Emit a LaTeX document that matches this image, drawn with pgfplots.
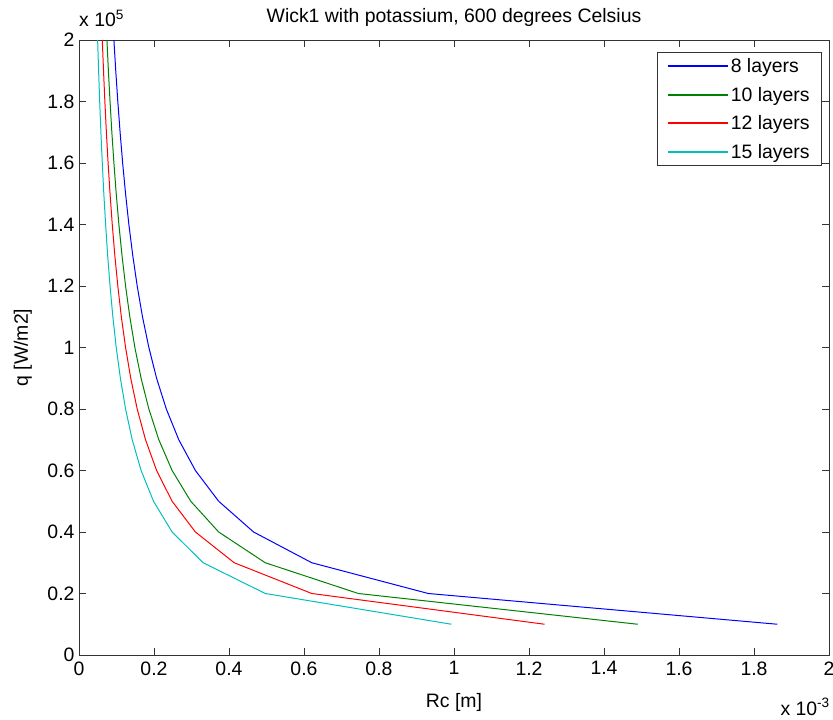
\documentclass[border=0pt]{standalone}
\usepackage{pgfplots}
\pgfplotsset{compat=1.18}
\usepackage{fontspec}
\setmainfont{Liberation Sans}
\definecolor{mgreen}{rgb}{0,0.5,0}
\definecolor{mcyan}{rgb}{0,0.75,0.75}
\newcommand{\ff}{\fontsize{19.5}{22}\selectfont}
\begin{document}
\begin{tikzpicture}
\begin{axis}[
  at={(0,0)}, anchor=south west,
  scale only axis, width=750bp, height=615bp,
  xmin=0, xmax=2, ymin=0, ymax=2,
  xtick={0,0.2,...,2.01}, ytick={0,0.2,...,2.01},
  tick align=inside, xtick pos=both, ytick pos=both,
  major tick length=7bp,
  /pgf/number format/assume math mode=true,
  /pgf/number format/fixed,
  tick label style={font=\ff},
  xticklabel style={yshift=-3bp},
  yticklabel style={xshift=-1bp},
  axis line style={line width=0.8pt, black!80},
  tick style={line width=0.8pt, black!80},
  title={Wick1 with potassium, 600 degrees Celsius},
  title style={font=\ff, at={(axis description cs:0.5,1)}, anchor=base, yshift=12bp},
  xlabel={Rc [m]}, ylabel={q [W/m2]},
  label style={font=\ff},
  xlabel style={at={(axis description cs:0.5,-0.085)}, anchor=base},
  ylabel style={at={(axis description cs:-0.058,0.5)}, anchor=south},
  legend style={at={(0.9907,0.9805)}, anchor=north east, draw=black!80, line width=0.8pt,
    font=\ff, cells={anchor=west}, row sep=9bp, inner xsep=10bp, inner ysep=4bp},
  legend image code/.code={\draw[#1, line width=1.6pt] (0bp,0bp) -- (60bp,0bp);},
  every axis plot/.append style={line width=1pt},
]
\addplot[draw=blue] coordinates {(1.8625,0.1)(0.9313,0.2)(0.6208,0.3)(0.4656,0.4)(0.3725,0.5)(0.3104,0.6)(0.2661,0.7)(0.2328,0.8)(0.2069,0.9)(0.1863,1.0)(0.1693,1.1)(0.1552,1.2)(0.1433,1.3)(0.1330,1.4)(0.1242,1.5)(0.1164,1.6)(0.1096,1.7)(0.1035,1.8)(0.0980,1.9)(0.0931,2.0)};
\addlegendentry{8 layers}
\addplot[draw=mgreen] coordinates {(1.49,0.1)(0.745,0.2)(0.4967,0.3)(0.3725,0.4)(0.298,0.5)(0.2483,0.6)(0.2129,0.7)(0.1863,0.8)(0.1656,0.9)(0.149,1.0)(0.1355,1.1)(0.1242,1.2)(0.1146,1.3)(0.1064,1.4)(0.0993,1.5)(0.0931,1.6)(0.0876,1.7)(0.0828,1.8)(0.0784,1.9)(0.0745,2.0)};
\addlegendentry{10 layers}
\addplot[draw=red] coordinates {(1.2417,0.1)(0.6208,0.2)(0.4139,0.3)(0.3104,0.4)(0.2483,0.5)(0.2069,0.6)(0.1774,0.7)(0.1552,0.8)(0.1380,0.9)(0.1242,1.0)(0.1129,1.1)(0.1035,1.2)(0.0955,1.3)(0.0887,1.4)(0.0828,1.5)(0.0776,1.6)(0.0730,1.7)(0.0690,1.8)(0.0654,1.9)(0.0621,2.0)};
\addlegendentry{12 layers}
\addplot[draw=mcyan] coordinates {(0.9933,0.1)(0.4967,0.2)(0.3311,0.3)(0.2483,0.4)(0.1987,0.5)(0.1656,0.6)(0.1419,0.7)(0.1242,0.8)(0.1104,0.9)(0.0993,1.0)(0.0903,1.1)(0.0828,1.2)(0.0764,1.3)(0.0710,1.4)(0.0662,1.5)(0.0621,1.6)(0.0584,1.7)(0.0552,1.8)(0.0523,1.9)(0.0497,2.0)};
\addlegendentry{15 layers}
\end{axis}
\node[anchor=base west, font=\ff, inner sep=0pt] at (0bp,628bp) {x 10\textsuperscript{5}};
\node[anchor=base east, font=\ff, inner sep=0pt] at (751bp,-60bp) {x 10\textsuperscript{-3}};
\pgfresetboundingbox
\path[use as bounding box] (-79bp,-65bp) rectangle (754bp,655bp);
\end{tikzpicture}
\end{document}
